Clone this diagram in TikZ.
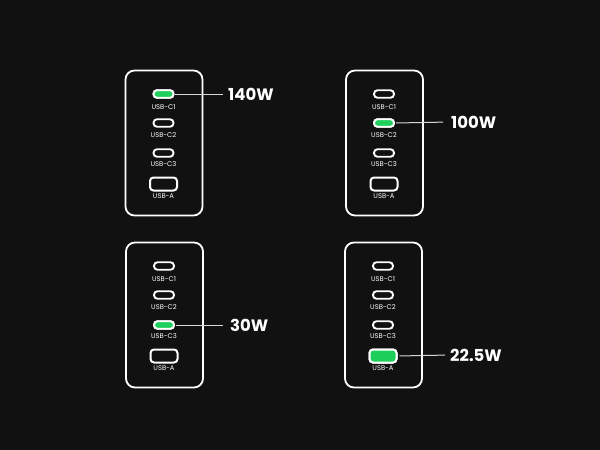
\documentclass[tikz,border=0pt]{standalone}
\usepackage{fontspec}
\setmainfont{Poppins}
\definecolor{bgdark}{HTML}{111111}
\definecolor{usbgreen}{HTML}{1FCF5C}
\definecolor{leadgray}{HTML}{D8D8D8}
\tikzset{
 charger/.style={draw=white, line width=1.8pt, rounded corners=9pt, minimum width=77pt, minimum height=145pt, inner sep=0},
 cport/.style={draw=white, line width=1.9pt, rounded corners=3.5pt, minimum width=20pt, minimum height=7.5pt, inner sep=0},
 aport/.style={draw=white, line width=2pt, rounded corners=3.5pt, minimum width=27pt, minimum height=13pt, inner sep=0},
 on/.style={fill=usbgreen},
 plabel/.style={text=white, font=\fontsize{6.8}{7}\selectfont, inner sep=0},
 watt/.style={text=white, font=\fontsize{16.5}{18}\selectfont\bfseries, anchor=west, inner sep=0},
 lead/.style={draw=leadgray, line width=1pt}
}
\newcommand\mycharger[3]{% name, cx, top
  \node[charger] (#1) at (#2+0.5, #3+73) {};
  \node[cport] (#1c1) at (#2, #3+24) {};
  \node[plabel] (#1l1) at (#2, #3+37) {USB-C1};
  \node[cport] (#1c2) at (#2, #3+53) {};
  \node[plabel] (#1l2) at (#2, #3+65) {USB-C2};
  \node[cport] (#1c3) at (#2, #3+83) {};
  \node[plabel] (#1l3) at (#2, #3+94) {USB-C3};
  \node[aport] (#1a) at (#2, #3+114) {};
  \node[plabel] (#1la) at (#2, #3+126) {USB-A};
}
\begin{document}
\begin{tikzpicture}[x=1pt,y=-1pt]
\fill[bgdark] (0,0) rectangle (600,450);
\useasboundingbox (0,0) rectangle (600,450);
\mycharger{ba}{163.5}{70}
\mycharger{bb}{384}{70}
\mycharger{bc}{164}{242}
\mycharger{bd}{383}{242}
% active ports
\node[cport,on] at (bac1) {};
\node[cport,on] at (bbc2) {};
\node[cport,on] at (bcc3) {};
\node[aport,on] at (bda) {};
% wattages
\node[watt] (wa) at (228,94) {140W};
\node[watt] (wb) at (451,122) {100W};
\node[watt] (wc) at (230,325) {30W};
\node[watt] (wd) at (450,355) {22.5W};
\draw[lead, shorten <=1pt, shorten >=5pt] (bac1.east) -- (wa.west);
\draw[lead, shorten <=1pt, shorten >=8pt] (bbc2.east) -- (wb.west);
\draw[lead, shorten <=1pt, shorten >=7pt] (bcc3.east) -- (wc.west);
\draw[lead, shorten <=2pt, shorten >=5pt] (bda.east) -- (wd.west);
\end{tikzpicture}
\end{document}
